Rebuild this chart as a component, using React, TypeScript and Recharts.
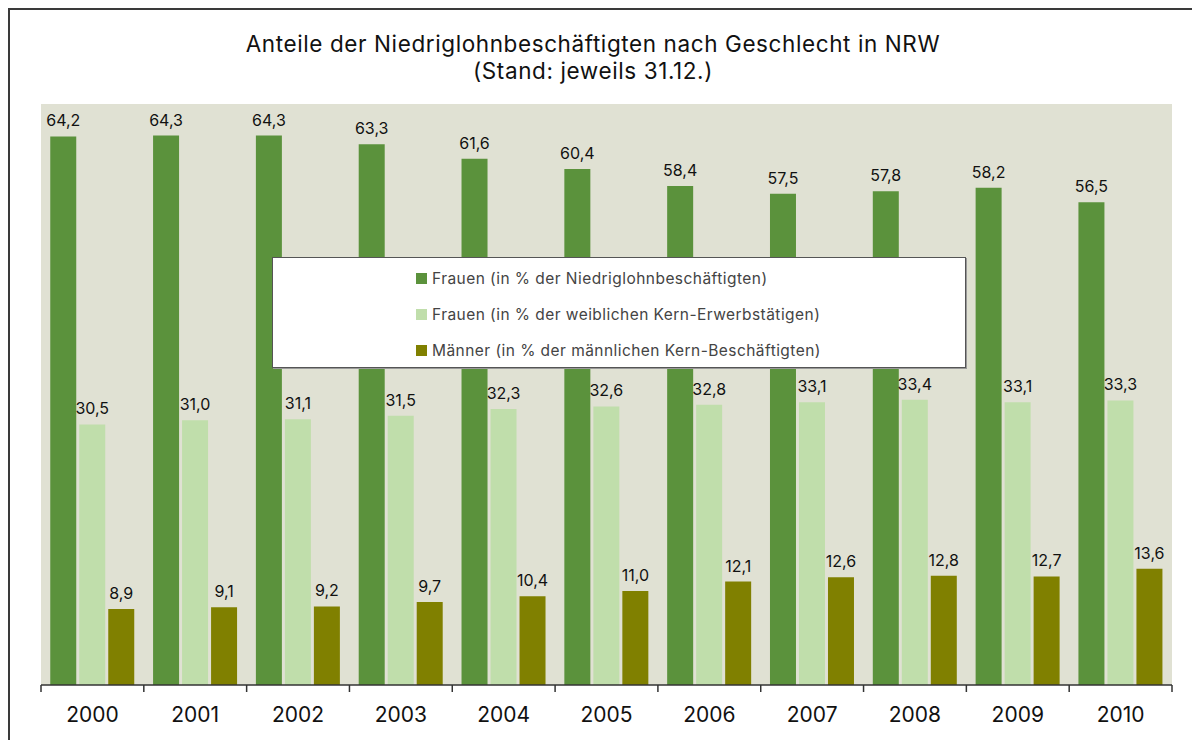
import React from "react";
import { BarChart, Bar, XAxis, YAxis, CartesianGrid, LabelList } from "recharts";

const years = ["2000", "2001", "2002", "2003", "2004", "2005", "2006", "2007", "2008", "2009", "2010"];
const frauenNiedriglohn = [64.2, 64.3, 64.3, 63.3, 61.6, 60.4, 58.4, 57.5, 57.8, 58.2, 56.5];
const frauenWeiblich = [30.5, 31.0, 31.1, 31.5, 32.3, 32.6, 32.8, 33.1, 33.4, 33.1, 33.3];
const maennerMaennlich = [8.9, 9.1, 9.2, 9.7, 10.4, 11.0, 12.1, 12.6, 12.8, 12.7, 13.6];

const series = [
  { key: "a", name: "Frauen (in % der Niedriglohnbeschäftigten)", color: "#5B923C" },
  { key: "b", name: "Frauen (in % der weiblichen Kern-Erwerbstätigen)", color: "#C0DEAB" },
  { key: "c", name: "Männer (in % der männlichen Kern-Beschäftigten)", color: "#808000" },
];

const data = years.map((y, i) => ({
  year: y,
  a: frauenNiedriglohn[i],
  b: frauenWeiblich[i],
  c: maennerMaennlich[i],
}));

const FONT = "Inter, 'DejaVu Sans', sans-serif";
const fmt = (v: any) => Number(v).toFixed(1).replace(".", ",");
const TICK_SIZE = 6;
const TICK_MARGIN = 16;

const YearTick = (props: any) => {
  const { x, y, payload, index, visibleTicksCount, width } = props;
  const half =
    payload && payload.offset ? payload.offset : (width || 1131) / (visibleTicksCount || 11) / 2;
  const axisY = y - TICK_SIZE - TICK_MARGIN;
  const last = index === (visibleTicksCount || 11) - 1;
  return (
    <g>
      <line x1={x - half} x2={x - half} y1={axisY} y2={axisY + 7} stroke="#333" strokeWidth={1.5} />
      {last && (
        <line x1={x + half} x2={x + half} y1={axisY} y2={axisY + 7} stroke="#333" strokeWidth={1.5} />
      )}
      <text x={x} y={y} dy="0.71em" textAnchor="middle" fill="#111" fontSize={21} fontFamily={FONT}>
        {payload.value}
      </text>
    </g>
  );
};

export default function App() {
  return (
    <div
      style={{
        position: "relative",
        width: 1190,
        height: 730,
        borderLeft: "2px solid #3a3a3a",
        borderTop: "2px solid #3a3a3a",
        background: "#fff",
        fontFamily: FONT,
      }}
    >
      <div
        style={{
          position: "absolute",
          left: 0,
          top: 20,
          width: 1166,
          textAlign: "center",
          fontSize: 22.5,
          letterSpacing: "0.6px",
          lineHeight: "27px",
          color: "#111",
        }}
      >
        Anteile der Niedriglohnbeschäftigten nach Geschlecht in NRW
        <br />
        (Stand: jeweils 31.12.)
      </div>
      <BarChart
        width={1190}
        height={730}
        data={data}
        margin={{ top: 94, right: 28, left: 31, bottom: 15 }}
        barCategoryGap="9%"
        barGap={3}
      >
        <CartesianGrid fill="#E0E1D3" stroke="none" horizontal={false} vertical={false} />
        <YAxis hide domain={[0, 68]} />
        <XAxis
          dataKey="year"
          height={40}
          axisLine={{ stroke: "#333", strokeWidth: 1.5 }}
          tickLine={false}
          tickSize={TICK_SIZE}
          tickMargin={TICK_MARGIN}
          interval={0}
          tick={<YearTick />}
        />
        {series.map((s) => (
          <Bar key={s.key} dataKey={s.key} fill={s.color} isAnimationActive={false}>
            <LabelList
              dataKey={s.key}
              position="top"
              offset={10}
              formatter={fmt}
              style={{ fill: "#111", fontSize: 16, fontFamily: FONT }}
            />
          </Bar>
        ))}
      </BarChart>
      <div
        style={{
          position: "absolute",
          left: 262,
          top: 247,
          width: 692,
          height: 109,
          background: "#fff",
          border: "1px solid #555",
          boxShadow: "1px 1px 0 #999",
        }}
      >
        {series.map((s, i) => (
          <div
            key={s.key}
            style={{
              position: "absolute",
              left: 143,
              top: 10 + i * 36.3,
              height: 20,
              display: "flex",
              alignItems: "center",
              fontSize: 15.5,
              letterSpacing: "0.45px",
              color: "#444",
              whiteSpace: "nowrap",
            }}
          >
            <span
              style={{
                display: "inline-block",
                width: 11,
                height: 11,
                background: s.color,
                marginRight: 5,
              }}
            />
            {s.name}
          </div>
        ))}
      </div>
    </div>
  );
}
